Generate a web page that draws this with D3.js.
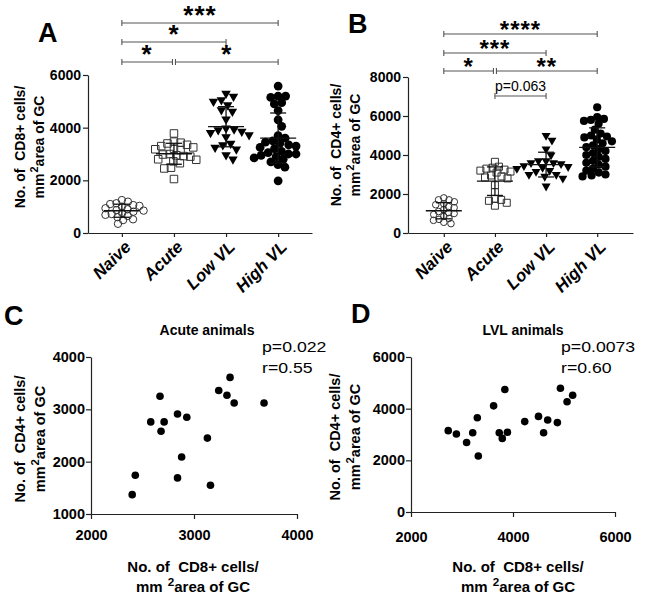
<!DOCTYPE html>
<html><head><meta charset="utf-8">
<script src="https://cdn.jsdelivr.net/npm/d3@7"></script>
<style>
body{margin:0;background:#fff}
text{font-family:"Liberation Sans",Arial,Helvetica,sans-serif;white-space:pre;fill:#000}
</style></head><body>
<svg id="c" width="645" height="601"></svg>
<script>
// ---------- DATA ----------
const groups = ["Naive", "Acute", "Low VL", "High VL"];

// Panel A: CD8+ cells / mm2 GC
const cd8Naive = [1250, 1190, 1130, 1100, 1060, 1030, 1000, 940, 900, 870, 850, 810, 760, 720, 690, 650, 600, 520, 490, 350];
const cd8Acute = [3780, 3470, 3430, 3400, 3350, 3300, 3250, 3200, 3180, 3150, 3000, 2980, 2950, 2920, 2900, 2800, 2780, 2720, 2650, 2480, 2450, 2050];
const cd8LowVL = [5300, 5180, 5050, 4990, 4860, 4670, 4610, 4320, 3980, 3940, 3910, 3850, 3810, 3720, 3650, 3400, 3340, 3250, 3180, 2960, 2800];
const cd8HighVL = [5580, 5200, 5200, 5150, 4950, 4900, 4650, 4300, 4050, 3700, 3600, 3500, 3450, 3400, 3350, 3300, 3250, 3200, 3100, 3050, 3000, 3000, 2950, 2900, 2850, 2800, 2700, 2600, 2500, 1980];
const cd8Ticks = [0, 2000, 4000, 6000];
const cd8Sig = [["Naive", "High VL", "***", 0], ["Naive", "Low VL", "*", 1], ["Naive", "Acute", "*", 2], ["Acute", "High VL", "*", 2]];

// Panel B: CD4+ cells / mm2 GC
const cd4Naive = [1800, 1700, 1700, 1600, 1500, 1450, 1350, 1300, 1200, 1100, 1050, 1000, 950, 850, 750, 700, 650, 550, 480];
const cd4Acute = [3650, 3400, 3350, 3300, 3250, 3200, 3150, 3100, 2950, 2900, 2850, 2800, 2450, 2100, 1750, 1700, 1650, 1550, 1400];
const cd4LowVL = [5000, 4750, 4300, 4000, 3700, 3700, 3600, 3600, 3550, 3450, 3400, 3350, 3300, 3200, 3150, 3000, 3000, 2900, 2800, 2400];
const cd4HighVL = [6450, 5950, 5850, 5800, 5750, 5600, 5300, 5100, 5000, 4950, 4900, 4800, 4700, 4600, 4500, 4400, 4300, 4200, 4100, 4000, 3900, 3800, 3700, 3600, 3500, 3400, 3300, 3200, 3100, 3000, 2950, 2900];
const cd4Ticks = [0, 2000, 4000, 6000, 8000];
const cd4Sig = [["Naive", "High VL", "****", 0], ["Naive", "Low VL", "***", 1], ["Naive", "Acute", "*", 2], ["Acute", "High VL", "**", 2], ["Acute", "Low VL", "p=0.063", 3]];

// Panel C: Acute animals
const acuteCD8 = [2400, 2430, 2580, 2710, 2670, 2680, 2840, 2930, 2880, 2840, 3130, 3160, 3240, 3320, 3350, 3390, 3680];
const acuteCD4 = [1370, 1740, 2760, 2760, 3250, 2580, 2910, 2850, 2090, 1690, 2450, 1550, 3360, 3270, 3610, 3120, 3120];
const acuteXTicks = [2000, 3000, 4000];
const acuteYTicks = [1000, 2000, 3000, 4000];
const acuteStats = ["p=0.022", "r=0.55"];

// Panel D: LVL animals
const lvlCD8 = [2730, 2890, 3090, 3210, 3300, 3320, 3620, 3730, 3790, 3840, 3890, 4230, 4500, 4600, 4680, 4870, 4930, 5060, 5170];
const lvlCD4 = [3150, 3020, 2690, 3070, 3650, 2170, 4110, 3070, 2850, 4740, 3090, 3500, 3700, 3070, 3560, 3460, 4790, 4270, 4520];
const lvlXTicks = [2000, 4000, 6000];
const lvlYTicks = [0, 2000, 4000, 6000];
const lvlStats = ["p=0.0073", "r=0.60"];

// ---------- DRAWING ----------
const svg = d3.select("#c");
svg.append("rect").attr("width", 645).attr("height", 601).attr("fill", "#fff");
const AX = "#222";

function styleAxis(g, fs) {
  g.select(".domain").attr("stroke", AX).attr("stroke-width", 1.2);
  g.selectAll(".tick line").attr("stroke", AX).attr("stroke-width", 1.2);
  g.selectAll(".tick text").attr("font-size", fs).attr("font-weight", "bold")
    .attr("font-family", "Liberation Sans, Arial, sans-serif").attr("fill", "#000");
}

function titleLines(cx, cy, rot, line1, line2, gap, fs) {
  const g = svg.append("g").attr("transform", `translate(${cx},${cy}) rotate(${rot})`);
  g.append("text").attr("text-anchor", "middle").attr("font-size", fs).attr("font-weight", "bold").text(line1);
  const t = g.append("text").attr("text-anchor", "middle").attr("y", gap).attr("font-size", fs).attr("font-weight", "bold");
  t.append("tspan").text(line2[0]);
  t.append("tspan").attr("dy", -6).attr("dx", 1).attr("font-size", fs * 0.78).text(line2[1]);
  t.append("tspan").attr("dy", 6).text(line2[2]);
}

function letter(x, y, s) {
  svg.append("text").attr("x", x).attr("y", y).attr("font-size", 27).attr("font-weight", "bold").text(s);
}

function swarm(values, y, diam) {
  const pts = values.map(v => ({ v, y: y(v) })).sort((a, b) => a.y - b.y);
  const placed = [];
  for (const p of pts) {
    const cands = [0];
    for (const q of placed) {
      const dy = p.y - q.y;
      if (Math.abs(dy) < diam) {
        const dx = Math.sqrt(diam * diam - dy * dy);
        cands.push(q.x + dx, q.x - dx);
      }
    }
    cands.sort((a, b) => Math.abs(a) - Math.abs(b));
    for (const c of cands) {
      if (placed.every(q => (q.x - c) ** 2 + (q.y - p.y) ** 2 >= diam * diam - 0.01)) { p.x = c; break; }
    }
    placed.push(p);
  }
  return pts;
}

function dotPlot(cfg) {
  const x = d3.scalePoint().domain(groups).range(cfg.xr).padding(cfg.pad);
  const y = d3.scaleLinear().domain(cfg.yd).range(cfg.yr);
  const g = svg.append("g");
  const ya = g.append("g").attr("transform", `translate(${cfg.xr[0]},0)`)
    .call(d3.axisLeft(y).tickValues(cfg.ticks).tickSize(5).tickSizeOuter(0).tickPadding(2).tickFormat(d3.format("d")));
  styleAxis(ya, 14);
  const xa = g.append("g").attr("transform", `translate(0,${cfg.yr[0]})`)
    .call(d3.axisBottom(x).tickSize(4).tickSizeOuter(0).tickFormat(""));
  styleAxis(xa, 14);
  groups.forEach(c => {
    g.append("text").attr("transform", `translate(${x(c) + 10},${cfg.yr[0] + 15}) rotate(-45)`)
      .attr("text-anchor", "end").attr("font-size", 17).attr("font-weight", "bold").attr("font-style", "italic").text(c);
  });
  const shapes = [
    { type: d3.symbolCircle, size: Math.PI * cfg.r[0] ** 2, fill: "none", rot: 0, d: cfg.r[0] * 2 * 0.85 },
    { type: d3.symbolSquare, size: cfg.r[1] ** 2, fill: "none", rot: 0, d: cfg.r[1] * 0.9 },
    { type: d3.symbolTriangle, size: cfg.r[2] ** 2 * Math.sqrt(3) / 4, fill: "#000", rot: 180, d: cfg.r[2] * 0.85 },
    { type: d3.symbolCircle, size: Math.PI * cfg.r[3] ** 2, fill: "#000", rot: 0, d: cfg.r[3] * 2 * 0.85 }
  ];
  cfg.data.forEach((vals, i) => {
    const sh = shapes[i];
    const pts = swarm(vals, y, sh.d);
    const sym = d3.symbol().type(sh.type).size(sh.size);
    g.selectAll(null).data(pts).join("path")
      .attr("d", sym)
      .attr("transform", p => `translate(${x(groups[i]) + p.x},${p.y}) rotate(${sh.rot})`)
      .attr("fill", sh.fill).attr("stroke", sh.fill === "none" ? "#333" : "none").attr("stroke-width", 1);
    const m = d3.mean(vals), sd = d3.deviation(vals), cx = x(groups[i]);
    const ln = (x1, y1, x2, y2) => g.append("line").attr("x1", x1).attr("y1", y1).attr("x2", x2).attr("y2", y2)
      .attr("stroke", "#111").attr("stroke-width", 1.3);
    ln(cx - 18, y(m), cx + 18, y(m));
    ln(cx, y(m - sd), cx, y(m + sd));
    ln(cx - 8, y(m + sd), cx + 8, y(m + sd));
    ln(cx - 8, y(m - sd), cx + 8, y(m - sd));
  });
  cfg.sig.forEach(s => {
    const ly = cfg.levels[s[3]];
    let x1 = x(s[0]), x2 = x(s[1]);
    cfg.sig.forEach(o => {
      if (o !== s && o[3] === s[3]) {
        if (o[0] === s[1]) x2 -= 1.5;
        if (o[1] === s[0]) x1 += 1.5;
      }
    });
    const b = g.append("g").attr("stroke", "#555").attr("stroke-width", 1.1);
    b.append("line").attr("x1", x1).attr("x2", x2).attr("y1", ly).attr("y2", ly);
    b.append("line").attr("x1", x1).attr("x2", x1).attr("y1", ly - 3).attr("y2", ly + 3);
    b.append("line").attr("x1", x2).attr("x2", x2).attr("y1", ly - 3).attr("y2", ly + 3);
    const isStar = s[2].startsWith("*");
    g.append("text").attr("x", (x1 + x2) / 2).attr("y", isStar ? ly + cfg.starDy : ly - 5)
      .attr("text-anchor", "middle")
      .attr("font-size", isStar ? cfg.starFs : 14)
      .attr("font-weight", isStar ? "bold" : "normal")
      .attr("letter-spacing", isStar ? 1 : 0)
      .attr("fill", isStar ? "#000" : "#333")
      .text(s[2]);
  });
}

function scatter(cfg) {
  const x = d3.scaleLinear().domain(cfg.xd).range(cfg.xr);
  const y = d3.scaleLinear().domain(cfg.yd).range(cfg.yr);
  const g = svg.append("g");
  const ya = g.append("g").attr("transform", `translate(${cfg.xr[0]},0)`)
    .call(d3.axisLeft(y).tickValues(cfg.yt).tickSize(5).tickSizeOuter(0).tickPadding(1).tickFormat(d3.format("d")));
  styleAxis(ya, 14.5);
  const xa = g.append("g").attr("transform", `translate(0,${cfg.yr[0]})`)
    .call(d3.axisBottom(x).tickValues(cfg.xt).tickSize(5).tickSizeOuter(0).tickPadding(cfg.xpad).tickFormat(d3.format("d")));
  styleAxis(xa, 14.5);
  g.selectAll(null).data(cfg.xs).join("circle")
    .attr("cx", (d) => x(d)).attr("cy", (d, i) => y(cfg.ys[i])).attr("r", 3.8).attr("fill", "#000");
  g.append("text").attr("x", cfg.tx).attr("y", 335).attr("text-anchor", "middle")
    .attr("font-size", 14).attr("font-weight", "bold").text(cfg.title);
  cfg.stats.forEach((s, i) => {
    g.append("text").attr("transform", `translate(${cfg.sx},${352 + i * 21}) scale(1.22,1)`)
      .attr("font-size", 14.5).text(s);
  });
}

// Panel A
letter(38, 42, "A");
dotPlot({ xr: [88, 312], pad: 0.65, yd: [0, 6000], yr: [233, 75], ticks: cd8Ticks,
  data: [cd8Naive, cd8Acute, cd8LowVL, cd8HighVL], r: [3.7, 7.5, 9.5, 4.4],
  sig: cd8Sig, levels: [23, 42, 62], starDy: 1, starFs: 26 });
titleLines(25, 147, -90, "No. of  CD8+ cells/", ["mm", "2", "area of GC"], 18.5, 14);

// Panel B
letter(348, 33, "B");
dotPlot({ xr: [408, 633], pad: 0.7, yd: [0, 8000], yr: [233, 77], ticks: cd4Ticks,
  data: [cd4Naive, cd4Acute, cd4LowVL, cd4HighVL], r: [3.3, 7, 9, 4.1],
  sig: cd4Sig, levels: [34, 53, 71, 96], starDy: 4, starFs: 24 });
titleLines(341, 145, -90, "No. of  CD4+ cells/", ["mm", "2", "area of GC"], 19, 14);

// Panel C
letter(4, 325, "C");
scatter({ xd: [2000, 4000], xr: [91, 297], yd: [1000, 4000], yr: [514, 357], xt: acuteXTicks, yt: acuteYTicks,
  xs: acuteCD8, ys: acuteCD4, title: "Acute animals", tx: 207, stats: acuteStats, sx: 262, xpad: 11 });
titleLines(25, 439, -90, "No. of  CD4+ cells/", ["mm", "2", "area of GC"], 20, 14.5);
titleLines(193, 572, 0, "No. of  CD8+ cells/", ["mm ", "2", "area of GC"], 20, 15);

// Panel D
letter(351, 323, "D");
scatter({ xd: [2000, 6000], xr: [411, 615], yd: [0, 6000], yr: [512, 357], xt: lvlXTicks, yt: lvlYTicks,
  xs: lvlCD8, ys: lvlCD4, title: "LVL animals", tx: 523, stats: lvlStats, sx: 561, xpad: 15 });
titleLines(340, 437, -90, "No. of  CD4+ cells/", ["mm", "2", "area of GC"], 20, 14.5);
titleLines(518, 572, 0, "No. of  CD8+ cells/", ["mm ", "2", "area of GC"], 20, 15);
</script>
</body></html>
